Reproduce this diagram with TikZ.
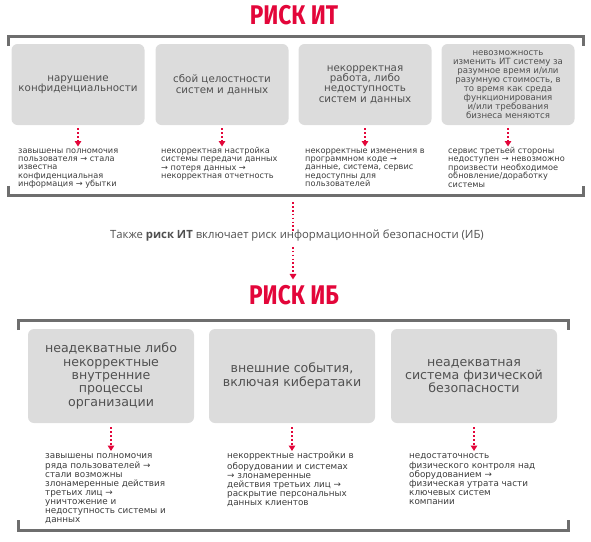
\documentclass[tikz,border=0pt]{standalone}
\usepackage{fontspec}
\setmainfont{DejaVu Sans}
\newfontfamily\titlefont{Fira Sans}[FakeStretch=0.84]
\newfontfamily\notefont{Open Sans}
\usetikzlibrary{arrows.meta}
\definecolor{riskred}{HTML}{E3063A}
\definecolor{boxgray}{HTML}{DCDCDC}
\definecolor{framegray}{HTML}{6E6E6E}
\definecolor{txtgray}{HTML}{505050}
\definecolor{causegray}{HTML}{3C3C3C}
\tikzset{
  risktitle/.style={text=riskred,font=\titlefont\bfseries\fontsize{27}{27}\selectfont,inner sep=0},
  riskbox/.style={fill=boxgray,rounded corners=6pt,align=center,text=txtgray,inner sep=0},
  causetext/.style={anchor=north west,align=left,text=causegray,inner sep=0,
    font=\fontsize{8.2}{8.4}\selectfont},
  frameline/.style={draw=framegray,line width=3pt},
  reddots/.style={draw=riskred,line width=1.7pt,dash pattern=on 1.7pt off 2.2pt},
  redarrow/.style={reddots,-{Triangle[length=5.5pt,width=6.5pt]}}
}
\begin{document}
\begin{tikzpicture}[x=1pt,y=-1pt]
\useasboundingbox (0,0) rectangle (591,541);
% риск ИТ
\node[risktitle] (ittitle) at (294,15.5) {РИСК ИТ};
\draw[frameline] (8,46) -- (8,36) -- (583,36) -- (583,46);
\draw[frameline] (8,186) -- (8,195.5) -- (583,195.5) -- (583,186);
\tikzset{itbox/.style={riskbox,minimum width=133pt,minimum height=81pt}}
\node[itbox,font=\fontsize{10.3}{10.6}\selectfont] (itA) at (78,84.5) {нарушение\\конфиденциальности};
\node[itbox,font=\fontsize{10.3}{10.6}\selectfont] (itB) at (222,84.5) {сбой целостности\\систем и данных};
\node[itbox,font=\fontsize{10.3}{10.4}\selectfont] (itC) at (365,84.5) {некорректная\\работа, либо\\недоступность\\систем и данных};
\node[itbox,font=\fontsize{8.6}{9}\selectfont] (itD) at (508,84.5) {невозможность\\изменить ИТ систему за\\разумное время и/или\\разумную стоимость, в\\то время как среда\\функционирования\\и/или требования\\бизнеса меняются};
\node[causetext] (itAc) at (18,147) {\strut завышены полномочия\\пользователя → стала\\известна\\конфиденциальная\\информация → убытки};
\node[causetext] (itBc) at (161,147) {\strut некорректная настройка\\системы передачи данных\\→ потеря данных →\\некорректная отчетность};
\node[causetext] (itCc) at (305,147) {\strut некорректные изменения в\\программном коде →\\данные, система, сервис\\недоступны для\\пользователей};
\node[causetext] (itDc) at (448,147) {\strut сервис третьей стороны\\недоступен → невозможно\\произвести необходимое\\обновление/доработку\\системы};
\foreach \n in {A,B,C,D}
  \draw[redarrow,shorten <=3pt,shorten >=0.5pt] (it\n.south) -- (it\n.south |- it\n c.north);
% переход
\coordinate (itend) at (293,202);
\node[text=txtgray,font=\notefont\fontsize{11.3}{13}\selectfont,inner sep=0] (also) at (297,236)
  {Также \textbf{риск ИТ} включает риск информационной безопасности (ИБ)};
\draw[reddots] (itend) -- ([yshift=-3pt]itend |- also.north);
\node[risktitle] (ibtitle) at (294,295.5) {РИСК ИБ};
\draw[redarrow,shorten <=5pt,shorten >=6pt] (itend |- also.south) -- (itend |- ibtitle.north);
% риск ИБ
\draw[frameline] (18,330) -- (18,320) -- (568,320) -- (568,330);
\draw[frameline] (18,520) -- (18,530) -- (568,530) -- (568,520);
\tikzset{ibbox/.style={riskbox,minimum width=166pt,minimum height=94pt,font=\fontsize{12.6}{13.3}\selectfont},
  ibcause/.style={causetext,font=\fontsize{8.8}{8.9}\selectfont}}
\node[ibbox] (ibA) at (111,376) {неадекватные либо\\некорректные\\внутренние\\процессы\\организации};
\node[ibbox] (ibB) at (292,376) {внешние события,\\включая кибератаки};
\node[ibbox] (ibC) at (474,376) {неадекватная\\система физической\\безопасности};
\node[ibcause] (ibAc) at (45,452) {\strut завышены полномочия\\ряда пользователей →\\стали возможны\\злонамеренные действия\\третьих лиц →\\уничтожение и\\недоступность системы и\\данных};
\node[ibcause] (ibBc) at (227,452) {\strut некорректные настройки в\\оборудовании и системах\\→ злонамеренные\\действия третьих лиц →\\раскрытие персональных\\данных клиентов};
\node[ibcause] (ibCc) at (409,452) {\strut недостаточность\\физического контроля над\\оборудованием →\\физическая утрата части\\ключевых систем\\компании};
\foreach \n in {A,B,C}
  \draw[redarrow,shorten <=4pt,shorten >=1pt] (ib\n.south) -- (ib\n.south |- ib\n c.north);
\end{tikzpicture}
\end{document}
